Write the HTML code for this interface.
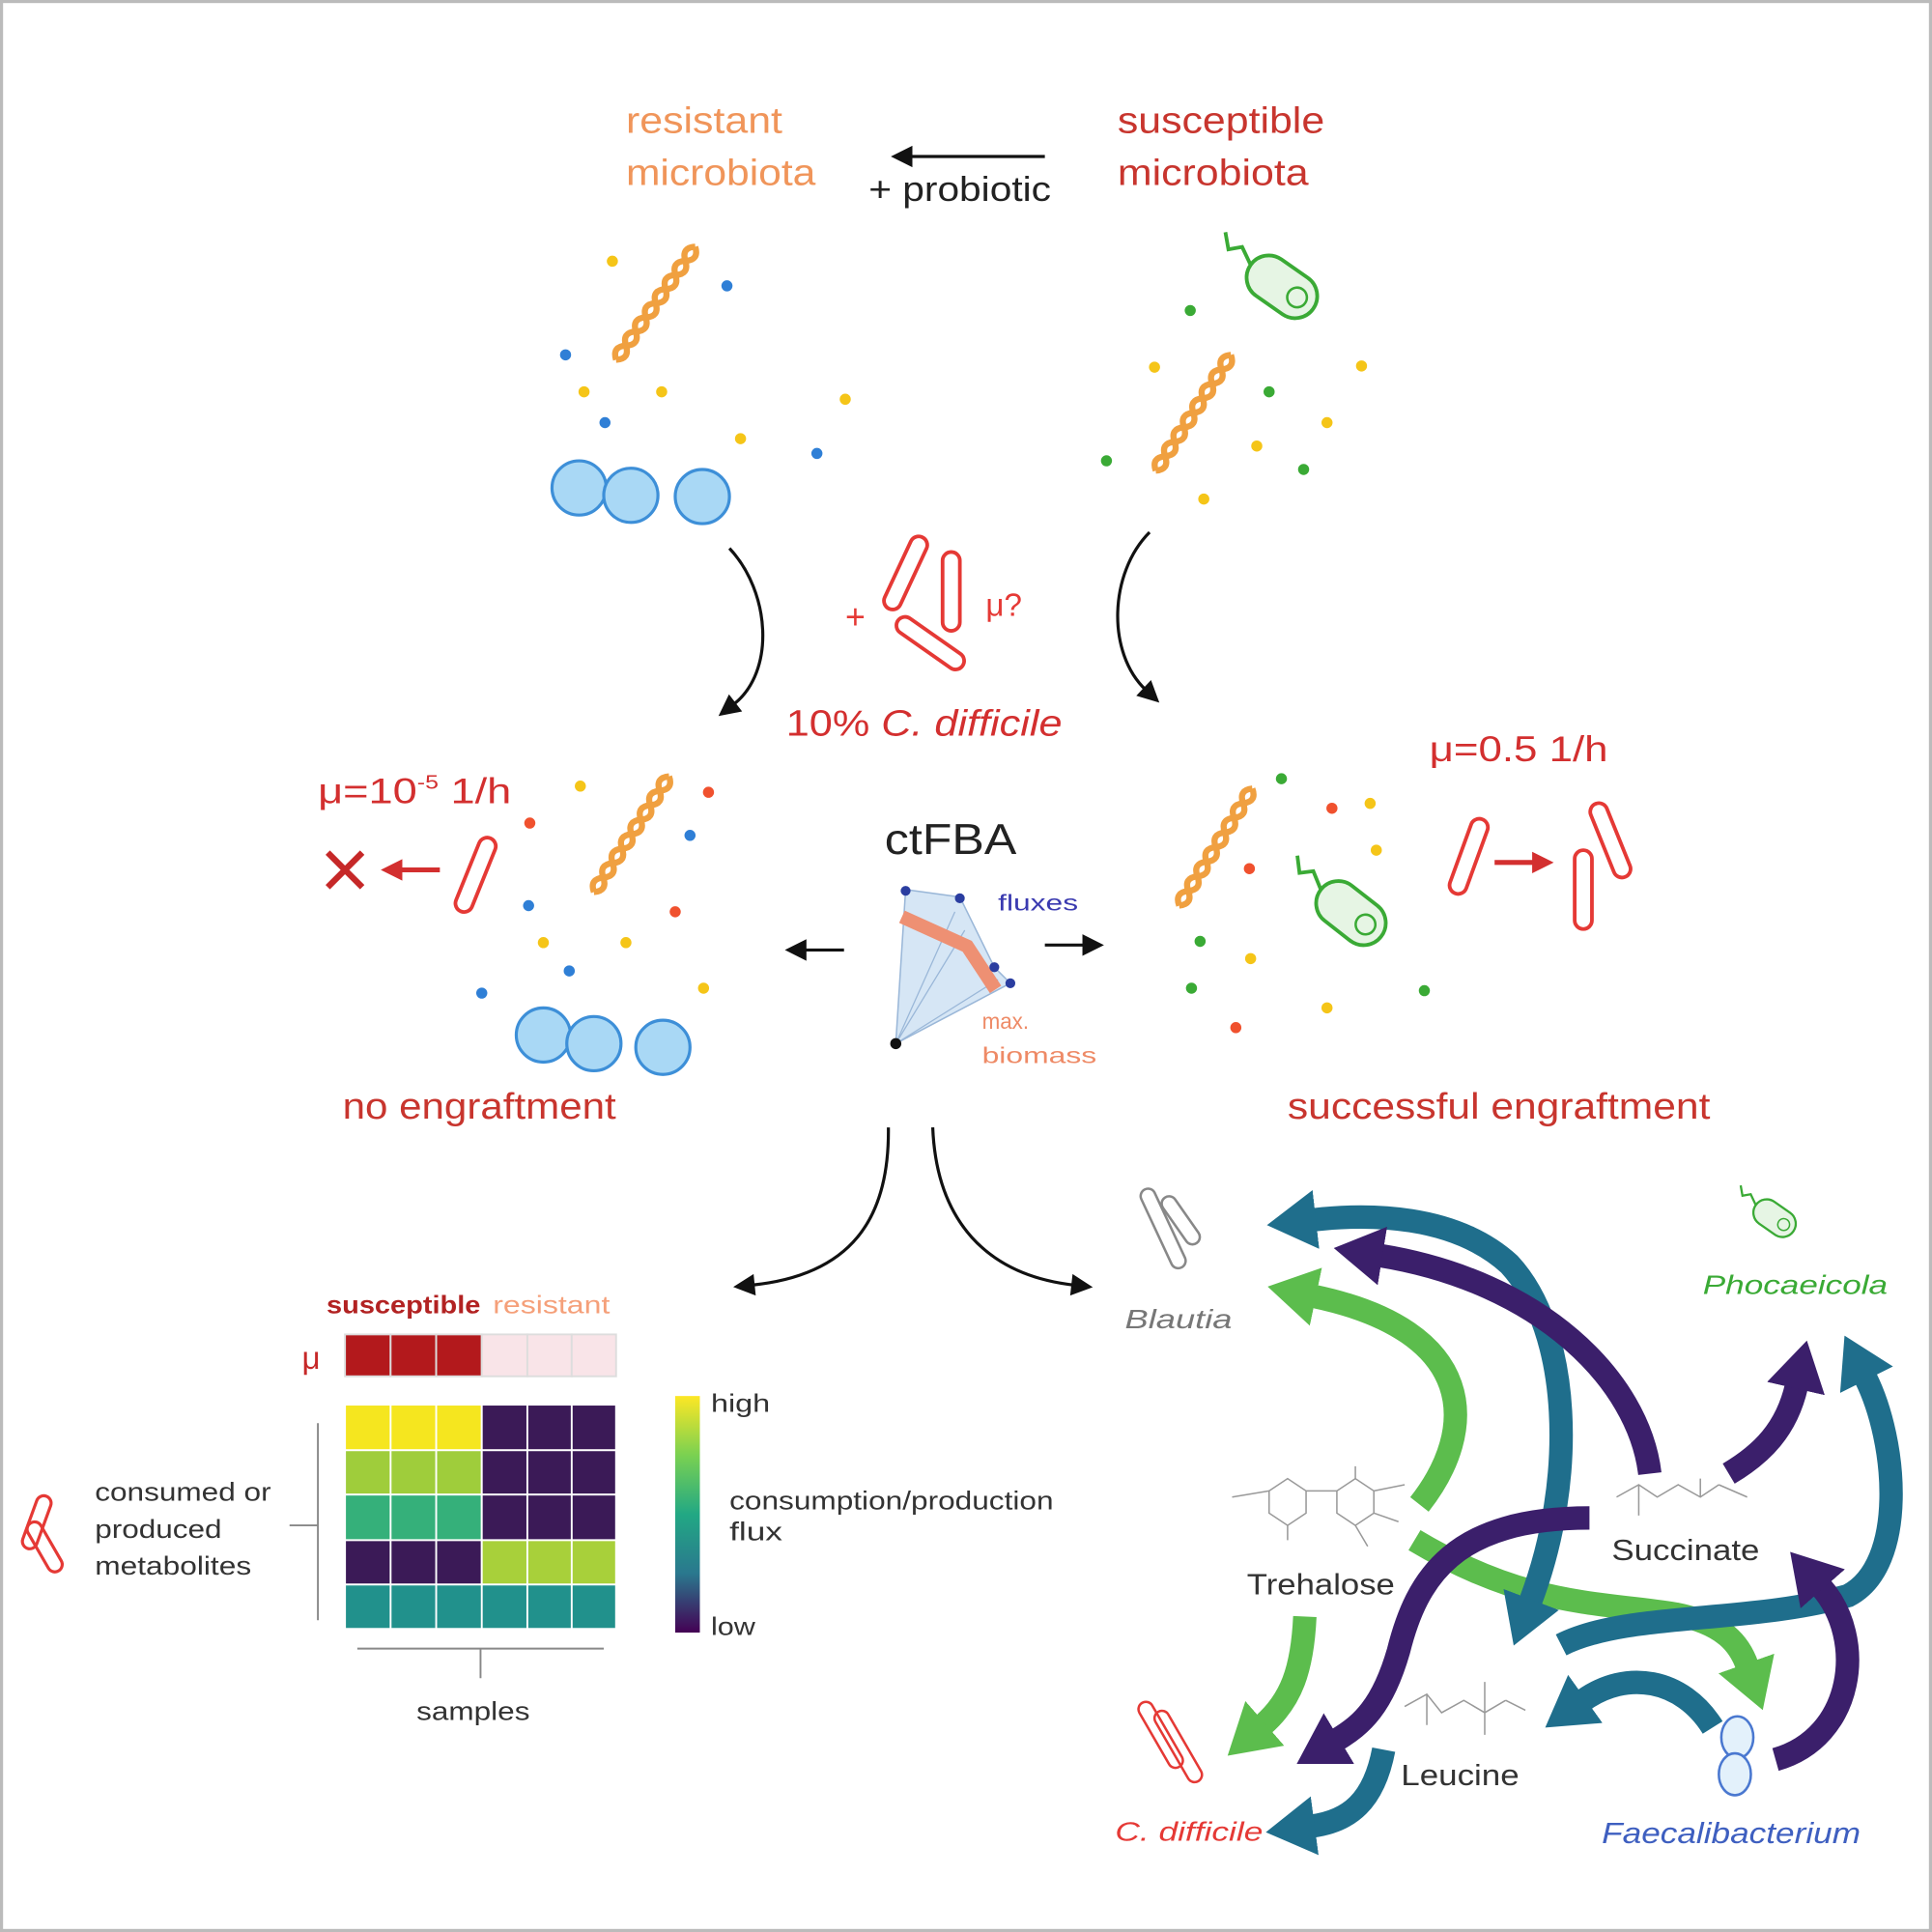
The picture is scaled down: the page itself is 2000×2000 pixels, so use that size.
<!DOCTYPE html>
<html><head><meta charset="utf-8"><style>
html,body{margin:0;padding:0;background:#fff}
svg{display:block}
text{font-family:"Liberation Sans",Arial,sans-serif}
</style></head><body>
<svg width="2000" height="2000" viewBox="0 0 1568 1568" xmlns="http://www.w3.org/2000/svg">
<defs>
<marker id="hk" markerUnits="userSpaceOnUse" markerWidth="20" markerHeight="20" refX="2" refY="0" viewBox="0 -8 14 16" orient="auto"><path d="M0,-7 L14,0 L0,7 z" fill="#111"/></marker>
<marker id="hr" markerUnits="userSpaceOnUse" markerWidth="20" markerHeight="20" refX="2" refY="0" viewBox="0 -8 14 16" orient="auto"><path d="M0,-7 L14,0 L0,7 z" fill="#d32f2f"/></marker>
<marker id="mt" markerUnits="userSpaceOnUse" markerWidth="40" markerHeight="48" refX="2" refY="0" viewBox="0 -24 40 48" orient="auto-start-reverse"><path d="M0,-24 L40,0 L0,24 z" fill="#1f6e8c"/></marker>
<marker id="mp" markerUnits="userSpaceOnUse" markerWidth="40" markerHeight="48" refX="2" refY="0" viewBox="0 -24 40 48" orient="auto-start-reverse"><path d="M0,-24 L40,0 L0,24 z" fill="#3b1f6b"/></marker>
<marker id="mg" markerUnits="userSpaceOnUse" markerWidth="40" markerHeight="48" refX="2" refY="0" viewBox="0 -24 40 48" orient="auto-start-reverse"><path d="M0,-24 L40,0 L0,24 z" fill="#5cbd4d"/></marker>
<linearGradient id="vir" x1="0" y1="0" x2="0" y2="1">
<stop offset="0" stop-color="#fde725"/><stop offset="0.25" stop-color="#7ad151"/><stop offset="0.5" stop-color="#22a884"/><stop offset="0.75" stop-color="#2a788e"/><stop offset="1" stop-color="#440154"/></linearGradient>
<g id="spiral"><path d="M0,0 q7,-9 14,0 t14,0 t14,0 t14,0 t14,0 t14,0 t14,0 t14,0" fill="none" stroke="#f0a040" stroke-width="5"/><path d="M0,0 q7,9 14,0 t14,0 t14,0 t14,0 t14,0 t14,0 t14,0 t14,0" fill="none" stroke="#f0a040" stroke-width="5"/></g>
<g id="gbac"><rect x="0" y="-18" width="62" height="36" rx="18" fill="#e6f5e4" stroke="#3aaa35" stroke-width="3"/><circle cx="46" cy="0" r="8" fill="none" stroke="#3aaa35" stroke-width="2"/><path d="M0,0 l-14,-8 l-8,8 l-10,-10" fill="none" stroke="#3aaa35" stroke-width="3"/></g>
<g id="rod"><rect x="-7" y="-32" width="14" height="64" rx="7" fill="#fff" stroke="#e53935" stroke-width="3"/></g>
</defs>
<rect x="1" y="1" width="1566" height="1566" fill="#fff" stroke="#bbb" stroke-width="3"/>

<!-- top labels -->
<text x="508" y="108" font-size="30" fill="#f0955a" textLength="127" lengthAdjust="spacingAndGlyphs">resistant</text>
<text x="508" y="150" font-size="30" fill="#f0955a" textLength="154" lengthAdjust="spacingAndGlyphs">microbiota</text>
<text x="907" y="108" font-size="30" fill="#c8352e" textLength="168" lengthAdjust="spacingAndGlyphs">susceptible</text>
<text x="907" y="150" font-size="30" fill="#c8352e" textLength="155" lengthAdjust="spacingAndGlyphs">microbiota</text>
<line x1="848" y1="127" x2="738" y2="127" stroke="#111" stroke-width="2.5" marker-end="url(#hk)"/>
<text x="705" y="163" font-size="28" fill="#222" textLength="148" lengthAdjust="spacingAndGlyphs">+ probiotic</text>

<!-- top-left community -->
<use href="#spiral" transform="translate(500,292) rotate(-55)"/>
<g fill="#f5c518"><circle cx="497" cy="212" r="4.5"/><circle cx="474" cy="318" r="4.5"/><circle cx="537" cy="318" r="4.5"/><circle cx="601" cy="356" r="4.5"/><circle cx="686" cy="324" r="4.5"/></g>
<g fill="#2f7fd6"><circle cx="590" cy="232" r="4.5"/><circle cx="459" cy="288" r="4.5"/><circle cx="491" cy="343" r="4.5"/><circle cx="663" cy="368" r="4.5"/></g>
<g fill="#a9d8f5" stroke="#3d8fd8" stroke-width="2.5"><circle cx="470" cy="396" r="22"/><circle cx="512" cy="402" r="22"/><circle cx="570" cy="403" r="22"/></g>

<!-- top-right community -->
<use href="#gbac" transform="translate(1015,215) rotate(35)"/>
<use href="#spiral" transform="translate(938,382) rotate(-57)"/>
<g fill="#3aaa35"><circle cx="966" cy="252" r="4.5"/><circle cx="1030" cy="318" r="4.5"/><circle cx="898" cy="374" r="4.5"/><circle cx="1058" cy="381" r="4.5"/></g>
<g fill="#f5c518"><circle cx="937" cy="298" r="4.5"/><circle cx="1105" cy="297" r="4.5"/><circle cx="1077" cy="343" r="4.5"/><circle cx="1020" cy="362" r="4.5"/><circle cx="977" cy="405" r="4.5"/></g>

<!-- curved arrows top -->
<path d="M592,445 C625,480 630,545 595,572" fill="none" stroke="#111" stroke-width="2.5" marker-end="url(#hk)"/>
<path d="M933,432 C900,465 898,530 930,560" fill="none" stroke="#111" stroke-width="2.5" marker-end="url(#hk)"/>

<!-- C. difficile addition -->
<text x="686" y="510" font-size="28" fill="#e53935">+</text>
<use href="#rod" transform="translate(735,465) rotate(25)"/>
<use href="#rod" transform="translate(772,480)"/>
<use href="#rod" transform="translate(755,522) rotate(-55)"/>
<text x="800" y="500" font-size="26" fill="#e53935">μ?</text>
<text x="638" y="597" font-size="30" fill="#d32f2f" textLength="224" lengthAdjust="spacingAndGlyphs">10%  <tspan font-style="italic">C. difficile</tspan></text>

<!-- middle left -->
<text x="258" y="652" font-size="29" fill="#d32f2f" textLength="157" lengthAdjust="spacingAndGlyphs">μ=10<tspan font-size="16" dy="-12">-5</tspan><tspan dy="12"> 1/h</tspan></text>
<path d="M266,692 L294,720 M294,692 L266,720" stroke="#c62828" stroke-width="5"/>
<line x1="357" y1="706" x2="324" y2="706" stroke="#d32f2f" stroke-width="4" marker-end="url(#hr)"/>
<use href="#rod" transform="translate(386,710) rotate(22)"/>
<use href="#spiral" transform="translate(482,724) rotate(-57)"/>
<g fill="#f5c518"><circle cx="471" cy="638" r="4.5"/><circle cx="441" cy="765" r="4.5"/><circle cx="508" cy="765" r="4.5"/><circle cx="571" cy="802" r="4.5"/></g>
<g fill="#f0512e"><circle cx="575" cy="643" r="4.5"/><circle cx="430" cy="668" r="4.5"/><circle cx="548" cy="740" r="4.5"/></g>
<g fill="#2f7fd6"><circle cx="560" cy="678" r="4.5"/><circle cx="429" cy="735" r="4.5"/><circle cx="462" cy="788" r="4.5"/><circle cx="391" cy="806" r="4.5"/></g>
<g fill="#a9d8f5" stroke="#3d8fd8" stroke-width="2.5"><circle cx="441" cy="840" r="22"/><circle cx="482" cy="847" r="22"/><circle cx="538" cy="850" r="22"/></g>
<text x="278" y="908" font-size="30" fill="#c8352e" textLength="222" lengthAdjust="spacingAndGlyphs">no engraftment</text>

<!-- ctFBA -->
<text x="718" y="693" font-size="35" fill="#222" textLength="107" lengthAdjust="spacingAndGlyphs">ctFBA</text>
<polygon points="735,722 779,728 807,785 820,798 727,847" fill="#d6e6f5" stroke="#9ab7d8" stroke-width="1.2"/>
<path d="M727,847 L783,755 M727,847 L775,740 M727,847 L810,795" stroke="#9ab7d8" stroke-width="1"/>
<path d="M732,744 L785,768 L808,803" fill="none" stroke="#ee9073" stroke-width="11"/>
<g fill="#2a3da0"><circle cx="735" cy="723" r="4"/><circle cx="779" cy="729" r="4"/><circle cx="807" cy="785" r="4"/><circle cx="820" cy="798" r="4"/></g>
<circle cx="727" cy="847" r="4.5" fill="#111"/>
<text x="810" y="739" font-size="18" fill="#3a3ab0" textLength="65" lengthAdjust="spacingAndGlyphs">fluxes</text>
<text x="797" y="835" font-size="18" fill="#ee8a66" textLength="38" lengthAdjust="spacingAndGlyphs">max.</text>
<text x="797" y="863" font-size="18" fill="#ee8a66" textLength="93" lengthAdjust="spacingAndGlyphs">biomass</text>
<line x1="685" y1="771" x2="652" y2="771" stroke="#111" stroke-width="2.5" marker-end="url(#hk)"/>
<line x1="848" y1="767" x2="881" y2="767" stroke="#111" stroke-width="2.5" marker-end="url(#hk)"/>

<!-- middle right -->
<use href="#spiral" transform="translate(957,735) rotate(-58)"/>
<use href="#gbac" transform="translate(1072,722) rotate(38)"/>
<g fill="#3aaa35"><circle cx="1040" cy="632" r="4.5"/><circle cx="974" cy="764" r="4.5"/><circle cx="967" cy="802" r="4.5"/><circle cx="1156" cy="804" r="4.5"/></g>
<g fill="#f0512e"><circle cx="1081" cy="656" r="4.5"/><circle cx="1014" cy="705" r="4.5"/><circle cx="1003" cy="834" r="4.5"/></g>
<g fill="#f5c518"><circle cx="1112" cy="652" r="4.5"/><circle cx="1117" cy="690" r="4.5"/><circle cx="1015" cy="778" r="4.5"/><circle cx="1077" cy="818" r="4.5"/></g>
<text x="1160" y="618" font-size="29" fill="#d32f2f" textLength="145" lengthAdjust="spacingAndGlyphs">μ=0.5 1/h</text>
<use href="#rod" transform="translate(1192,695) rotate(20)"/>
<line x1="1213" y1="700" x2="1246" y2="700" stroke="#d32f2f" stroke-width="4" marker-end="url(#hr)"/>
<use href="#rod" transform="translate(1285,722)"/>
<use href="#rod" transform="translate(1307,682) rotate(-22)"/>
<text x="1045" y="908" font-size="30" fill="#c8352e" textLength="343" lengthAdjust="spacingAndGlyphs">successful engraftment</text>

<!-- bottom curved arrows -->
<path d="M721,915 C722,990 690,1035 610,1043" fill="none" stroke="#111" stroke-width="2.5" marker-end="url(#hk)"/>
<path d="M757,915 C760,990 800,1035 872,1043" fill="none" stroke="#111" stroke-width="2.5" marker-end="url(#hk)"/>

<!-- heatmap -->
<text x="265" y="1066" font-size="20" fill="#b22222" font-weight="bold" textLength="125" lengthAdjust="spacingAndGlyphs">susceptible</text>
<text x="400" y="1066" font-size="20" fill="#f5a07a" textLength="95" lengthAdjust="spacingAndGlyphs">resistant</text>
<text x="245" y="1111" font-size="26" fill="#c62828">μ</text>
<g stroke="#ddd" stroke-width="1.5">
<rect x="280" y="1083" width="37" height="34" fill="#b3191c"/><rect x="317" y="1083" width="37" height="34" fill="#b3191c"/><rect x="354" y="1083" width="37" height="34" fill="#b3191c"/>
<rect x="391" y="1083" width="37" height="34" fill="#f9e4e8"/><rect x="428" y="1083" width="36" height="34" fill="#f9e4e8"/><rect x="464" y="1083" width="36" height="34" fill="#f9e4e8"/>
</g>
<g stroke="#fff" stroke-width="1.5">
<rect x="280" y="1140" width="111" height="37" fill="#f5e61f"/><rect x="391" y="1140" width="109" height="37" fill="#3b1a57"/>
<rect x="280" y="1177" width="111" height="36" fill="#9fcd3b"/><rect x="391" y="1177" width="109" height="36" fill="#3b1a57"/>
<rect x="280" y="1213" width="111" height="37" fill="#35b07a"/><rect x="391" y="1213" width="109" height="37" fill="#3b1a57"/>
<rect x="280" y="1250" width="111" height="36" fill="#3b1a57"/><rect x="391" y="1250" width="109" height="36" fill="#a8d03a"/>
<rect x="280" y="1286" width="220" height="36" fill="#21918c"/>
<path d="M317,1140 V1322 M354,1140 V1322 M391,1286 V1322 M428,1140 V1322 M464,1140 V1322" fill="none"/>
</g>
<path d="M258,1155 V1315 M235,1238 H258 M290,1338 H490 M390,1338 V1362" stroke="#888" stroke-width="1.5" fill="none"/>
<text x="338" y="1396" font-size="21" fill="#333" textLength="92" lengthAdjust="spacingAndGlyphs">samples</text>
<text x="77" y="1218" font-size="21" fill="#333" textLength="143" lengthAdjust="spacingAndGlyphs">consumed or</text>
<text x="77" y="1248" font-size="21" fill="#333" textLength="103" lengthAdjust="spacingAndGlyphs">produced</text>
<text x="77" y="1278" font-size="21" fill="#333" textLength="127" lengthAdjust="spacingAndGlyphs">metabolites</text>
<rect x="24" y="1213" width="12" height="45" rx="6" fill="none" stroke="#e53935" stroke-width="2.5" transform="rotate(20 30 1235)"/>
<rect x="30" y="1233" width="12" height="45" rx="6" fill="none" stroke="#e53935" stroke-width="2.5" transform="rotate(-30 36 1255)"/>
<rect x="548" y="1133" width="20" height="192" fill="url(#vir)"/>
<text x="577" y="1146" font-size="20" fill="#333" textLength="48" lengthAdjust="spacingAndGlyphs">high</text>
<text x="577" y="1327" font-size="20" fill="#333" textLength="36" lengthAdjust="spacingAndGlyphs">low</text>
<text x="592" y="1225" font-size="21" fill="#333" textLength="263" lengthAdjust="spacingAndGlyphs">consumption/production</text>
<text x="592" y="1250" font-size="21" fill="#333" textLength="43" lengthAdjust="spacingAndGlyphs">flux</text>

<!-- network nodes -->
<rect x="938" y="962" width="12" height="70" rx="6" fill="none" stroke="#888" stroke-width="2" transform="rotate(-25 944 997)"/>
<rect x="952" y="968" width="12" height="45" rx="6" fill="none" stroke="#888" stroke-width="2" transform="rotate(-35 958 990)"/>
<text x="913" y="1078" font-size="22" fill="#777" font-style="italic" textLength="87" lengthAdjust="spacingAndGlyphs">Blautia</text>
<use href="#gbac" transform="translate(1425,978) rotate(35) scale(0.6)"/>
<text x="1382" y="1050" font-size="22" fill="#3aaa35" font-style="italic" textLength="150" lengthAdjust="spacingAndGlyphs">Phocaeicola</text>
<g stroke="#999" stroke-width="1.2" fill="none">
<polygon points="1030,1210 1045,1200 1060,1210 1060,1228 1045,1238 1030,1228"/>
<polygon points="1085,1210 1100,1200 1115,1210 1115,1228 1100,1238 1085,1228"/>
<path d="M1000,1215 L1030,1210 M1060,1210 L1085,1210 M1100,1200 V1190 M1115,1210 L1140,1205 M1115,1228 L1135,1235 M1045,1238 V1250 M1100,1238 L1110,1255"/>
<path d="M1312,1215 L1330,1205 L1345,1215 L1362,1205 L1380,1215 L1395,1205 M1380,1215 V1200 M1395,1205 L1418,1215 M1330,1205 V1230"/>
<path d="M1140,1385 L1158,1375 L1170,1390 L1188,1380 L1205,1390 L1222,1380 M1158,1375 V1400 M1205,1390 V1408 M1205,1365 V1390 M1222,1380 L1238,1388"/>
</g>
<text x="1012" y="1294" font-size="24" fill="#333" textLength="120" lengthAdjust="spacingAndGlyphs">Trehalose</text>
<text x="1308" y="1266" font-size="24" fill="#333" textLength="120" lengthAdjust="spacingAndGlyphs">Succinate</text>
<text x="1137" y="1449" font-size="24" fill="#333" textLength="96" lengthAdjust="spacingAndGlyphs">Leucine</text>
<rect x="936" y="1378" width="12" height="60" rx="6" fill="none" stroke="#e53935" stroke-width="2" transform="rotate(-30 942 1408)"/>
<rect x="950" y="1385" width="12" height="65" rx="6" fill="none" stroke="#e53935" stroke-width="2" transform="rotate(-30 956 1417)"/>
<text x="905" y="1494" font-size="22" fill="#e53935" font-style="italic" textLength="120" lengthAdjust="spacingAndGlyphs">C. difficile</text>
<ellipse cx="1410" cy="1410" rx="13" ry="17" fill="#e3f1fb" stroke="#4a78d0" stroke-width="2"/>
<ellipse cx="1408" cy="1440" rx="13" ry="17" fill="#e3f1fb" stroke="#4a78d0" stroke-width="2"/>
<text x="1300" y="1496" font-size="24" fill="#3e5fc0" font-style="italic" textLength="210" lengthAdjust="spacingAndGlyphs">Faecalibacterium</text>

<!-- network arrows -->
<g fill="none" stroke-width="19">
<path d="M1152,1221 C1200,1160 1200,1080 1066,1052" stroke="#5cbd4d" marker-end="url(#mg)"/>
<path d="M1148,1250 C1240,1305 1300,1300 1360,1310 C1400,1318 1412,1335 1418,1352" stroke="#5cbd4d" marker-end="url(#mg)"/>
<path d="M1059,1312 C1057,1355 1048,1380 1025,1400" stroke="#5cbd4d" marker-end="url(#mg)"/>
<path d="M1242,1300 C1280,1200 1275,1080 1225,1026 C1180,985 1110,985 1066,990" stroke="#1f6e8c" marker-start="url(#mt)" marker-end="url(#mt)"/>
<path d="M1339,1196 C1330,1120 1250,1040 1120,1019" stroke="#3b1f6b" marker-end="url(#mp)"/>
<path d="M1290,1232 C1180,1232 1150,1280 1135,1340 C1122,1385 1105,1400 1085,1412" stroke="#3b1f6b" marker-end="url(#mp)"/>
<path d="M1123,1420 C1115,1462 1095,1478 1065,1482" stroke="#1f6e8c" marker-end="url(#mt)"/>
<path d="M1390,1402 C1365,1362 1320,1355 1285,1380" stroke="#1f6e8c" marker-end="url(#mt)"/>
<path d="M1267,1335 C1320,1308 1420,1318 1500,1295 C1548,1270 1540,1170 1514,1118" stroke="#1f6e8c" marker-end="url(#mt)"/>
<path d="M1441,1428 C1505,1410 1515,1330 1478,1288" stroke="#3b1f6b" marker-end="url(#mp)"/>
<path d="M1403,1196 C1430,1180 1450,1160 1458,1125" stroke="#3b1f6b" marker-end="url(#mp)"/>
</g>
</svg>
</body></html>
